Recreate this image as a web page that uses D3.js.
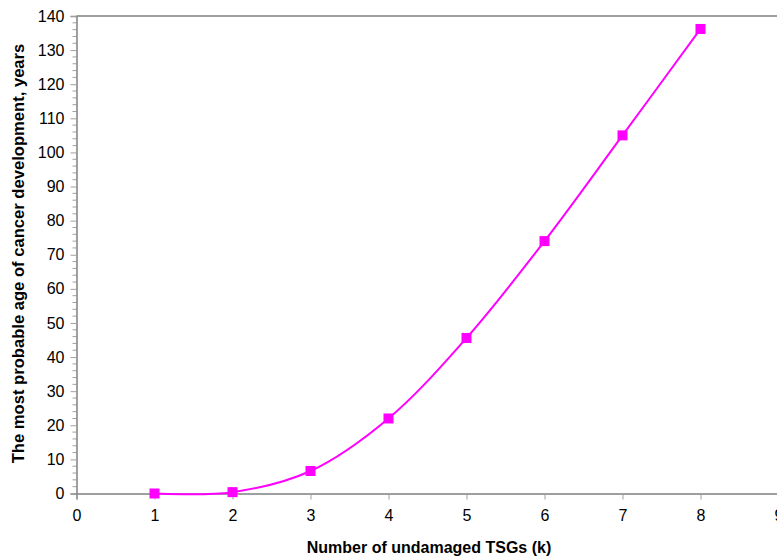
<!DOCTYPE html>
<html><head><meta charset="utf-8">
<script src="https://cdn.jsdelivr.net/npm/d3@7"></script>
<style>body{margin:0;background:#fff}svg{display:block}</style>
</head><body>
<svg id="c" width="777" height="558"></svg>
<script>
const kValues = [1, 2, 3, 4, 5, 6, 7, 8];
const ageValues = [0, 0.4, 6.6, 22.0, 45.6, 74.0, 105.0, 136.2];
const xTicks = [0, 1, 2, 3, 4, 5, 6, 7, 8, 9];
const yTicks = [0, 10, 20, 30, 40, 50, 60, 70, 80, 90, 100, 110, 120, 130, 140];
const xTitle = "Number of undamaged TSGs (k)";
const yTitle = "The most probable age of cancer development, years";

const svg = d3.select("#c");
const x = d3.scaleLinear().domain([0, 9]).range([76.5, 778.5]);
const y = d3.scaleLinear().domain([0, 140]).range([493.5, 16]);
const font = "Liberation Sans, Arial, sans-serif";
const grey = "#808080";

// top border
svg.append("line").attr("x1", x(0)).attr("x2", 777).attr("y1", y(140)).attr("y2", y(140))
  .attr("stroke", grey).attr("stroke-width", 1.5);

// minor y ticks
const minor = d3.range(0, 141, 2).filter(v => v % 10 !== 0);
svg.append("g").attr("transform", `translate(${x(0)},0)`)
  .selectAll("line").data(minor).join("line")
  .attr("x1", -4).attr("x2", 0).attr("y1", d => y(d)).attr("y2", d => y(d))
  .attr("stroke", "#a0a0a0").attr("stroke-width", 1);

// y axis
const ya = svg.append("g").attr("transform", `translate(${x(0)},0)`)
  .call(d3.axisLeft(y).tickValues(yTicks).tickSize(6).tickPadding(6));
ya.select(".domain").attr("stroke", grey).attr("stroke-width", 1.5);
ya.selectAll(".tick line").attr("stroke", "#a0a0a0");
ya.selectAll("text").attr("font-family", font).attr("font-size", 16).attr("fill", "#000");

// x axis
const xa = svg.append("g").attr("transform", `translate(0,${y(0)})`)
  .call(d3.axisBottom(x).tickValues(xTicks).tickSize(6).tickPadding(10));
xa.select(".domain").attr("stroke", grey).attr("stroke-width", 1.5);
xa.selectAll(".tick line").attr("stroke", "#a0a0a0");
xa.selectAll("text").attr("font-family", font).attr("font-size", 16).attr("fill", "#000");

// line
const data = kValues.map((k, i) => [k, ageValues[i]]);
svg.append("path").datum(data)
  .attr("fill", "none").attr("stroke", "#ff00ff").attr("stroke-width", 2)
  .attr("d", d3.line().x(d => x(d[0])).y(d => y(d[1])).curve(d3.curveCatmullRom.alpha(0.5)));

// markers
svg.append("g").selectAll("rect").data(data).join("rect")
  .attr("x", d => x(d[0]) - 5).attr("y", d => y(d[1]) - 5)
  .attr("width", 10).attr("height", 10).attr("fill", "#ff00ff");

// titles
svg.append("text").attr("x", 429).attr("y", 553).attr("text-anchor", "middle")
  .attr("font-family", font).attr("font-size", 16).attr("font-weight", "bold").text(xTitle);
svg.append("text").attr("transform", "translate(24,253.5) rotate(-90)").attr("text-anchor", "middle")
  .attr("font-family", font).attr("font-size", 16.6).attr("font-weight", "bold").text(yTitle);
</script>
</body></html>
